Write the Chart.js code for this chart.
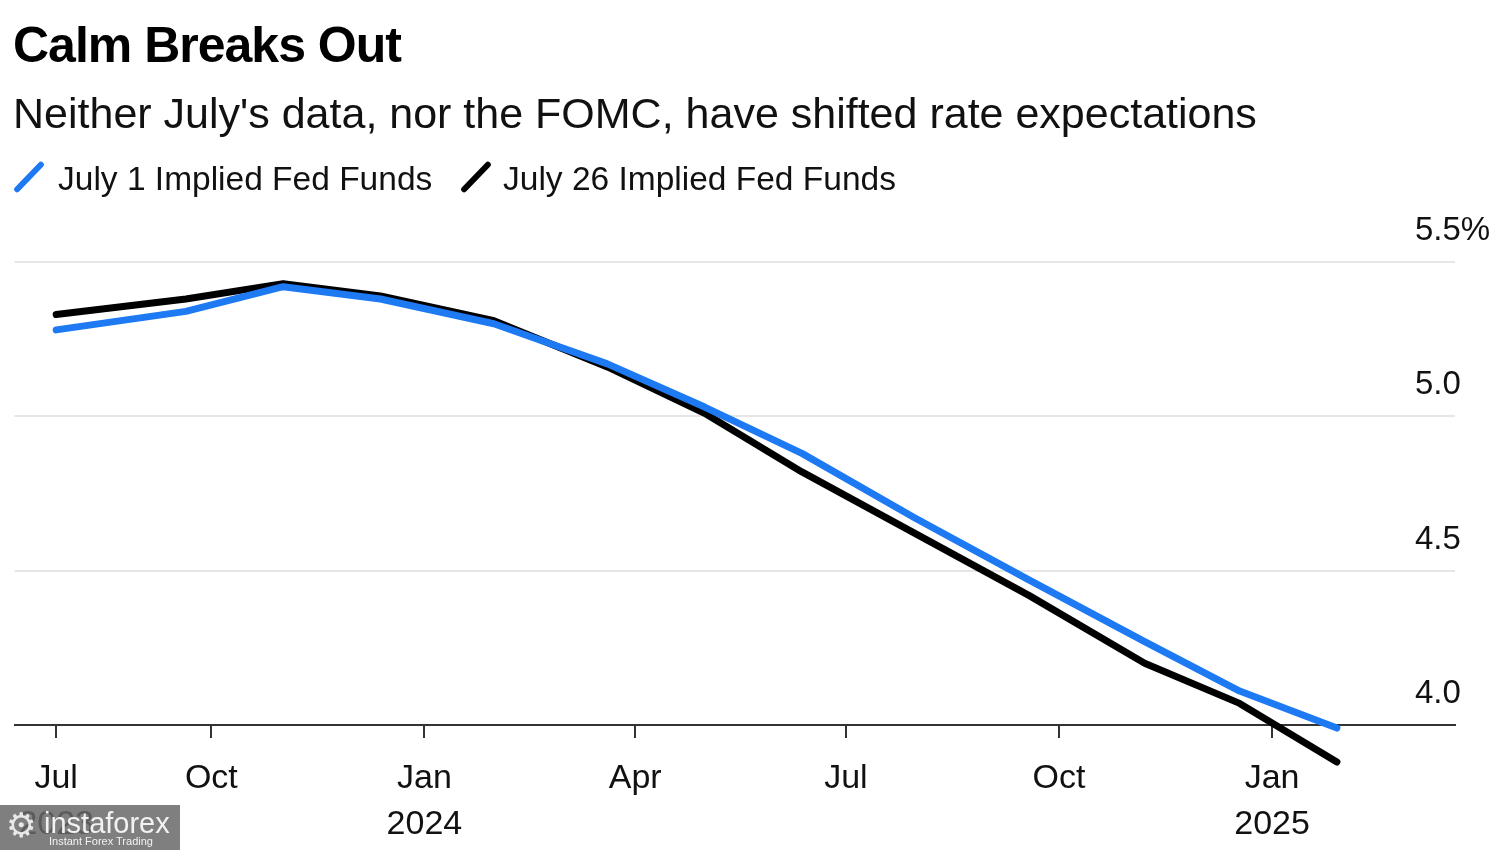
<!DOCTYPE html>
<html>
<head>
<meta charset="utf-8">
<script src="https://cdn.jsdelivr.net/npm/chart.js@4.4.1/dist/chart.umd.min.js"></script>
<style>
  body { margin: 0; background: #fff; font-family: "Liberation Sans", Arial, sans-serif; color: #111; }
  #wrap { position: relative; width: 1500px; height: 850px; overflow: hidden; }
  #chartBox { position: absolute; left: 0; top: 0; width: 1500px; height: 850px; }
  .txt { position: absolute; white-space: nowrap; line-height: 1; }
  #title { left: 13px; top: 20px; font-size: 50px; font-weight: bold; letter-spacing: -1px; color: #000; }
  #subtitle { left: 13px; top: 92px; font-size: 43px; color: #111; }
  .legText { top: 162px; font-size: 33.5px; color: #111; }
  .legMark { position: absolute; width: 40px; height: 6px; border-radius: 3px; transform: rotate(-46deg); }
  #mark { position: absolute; left: 0; top: 805px; width: 180px; height: 45px; background: rgba(105,105,105,0.85); color: #f2f2f2; }
  #mark .gear { position: absolute; left: 6px; top: 3px; font-family: "DejaVu Sans"; font-size: 34px; line-height: 1; color: #e8e8e8; }
  #mark .name { position: absolute; left: 44px; top: 4px; font-size: 29px; line-height: 1; }
  #mark .sub { position: absolute; left: 49px; top: 31px; font-size: 11px; line-height: 1; }
</style>
</head>
<body>
<div id="wrap">
  <div id="chartBox"><canvas id="chart"></canvas></div>
  <div class="txt" id="title">Calm Breaks Out</div>
  <div class="txt" id="subtitle">Neither July's data, nor the FOMC, have shifted rate expectations</div>
  <div class="legMark" style="left:9px; top:174px; background:#1d7af3;"></div>
  <div class="txt legText" style="left:58px;">July 1 Implied Fed Funds</div>
  <div class="legMark" style="left:456px; top:174px; background:#000;"></div>
  <div class="txt legText" style="left:503px;">July 26 Implied Fed Funds</div>
  <div id="mark"><span class="gear">⚙</span><span class="name">instaforex</span><span class="sub">Instant Forex Trading</span></div>
</div>
<script>
// FOMC meeting dates and implied fed funds rate (%)
const fomcDates = ['2023-07-26', '2023-09-20', '2023-11-01', '2023-12-13', '2024-01-31', '2024-03-20',
                   '2024-05-01', '2024-06-12', '2024-07-31', '2024-09-18', '2024-11-07', '2024-12-18', '2025-01-29'];
const july1Rates = [5.28, 5.34, 5.42, 5.38, 5.30, 5.17, 5.03, 4.88, 4.67, 4.47, 4.27, 4.11, 3.99];
const july26Rates = [5.33, 5.38, 5.43, 5.39, 5.31, 5.16, 5.01, 4.82, 4.62, 4.42, 4.20, 4.07, 3.88];

const tickDates = ['2023-07-26', '2023-10-01', '2024-01-01', '2024-04-01', '2024-07-01', '2024-10-01', '2025-01-01'];
const tickLabels = [['Jul', '2023'], 'Oct', ['Jan', '2024'], 'Apr', 'Jul', 'Oct', ['Jan', '2025']];
const yTickValues = [4.0, 4.5, 5.0, 5.5];
const yTickLabels = ['4.0', '4.5', '5.0', '5.5%'];

const FONT = '"Liberation Sans", Arial, sans-serif';

function day(s) {
    return Date.parse(s + 'T00:00:00Z') / 86400000;
}

function toPoints(values) {
    return values.map((v, i) => ({x: day(fomcDates[i]), y: v}));
}

// y labels sit just above their gridlines, near the right edge
const yLabelPlugin = {
    id: 'yLabels',
    afterDraw(chart) {
        const {ctx, chartArea} = chart;
        const y = chart.scales.y;
        ctx.save();
        ctx.font = '33px ' + FONT;
        ctx.fillStyle = '#111';
        ctx.textAlign = 'left';
        ctx.textBaseline = 'middle';
        yTickValues.forEach((v, i) => {
            ctx.fillText(yTickLabels[i], chartArea.right - 40, y.getPixelForValue(v) - 31);
        });
        ctx.restore();
    }
};

const lineStyle = {
    borderWidth: 7,
    pointRadius: 0,
    tension: 0,
    clip: false,
    borderJoinStyle: 'round',
    borderCapStyle: 'round'
};

new Chart(document.getElementById('chart'), {
    type: 'line',
    data: {
        datasets: [
            {label: 'July 1 Implied Fed Funds', data: toPoints(july1Rates), borderColor: '#1d7af3', ...lineStyle},
            {label: 'July 26 Implied Fed Funds', data: toPoints(july26Rates), borderColor: '#000', ...lineStyle}
        ]
    },
    options: {
        responsive: true,
        maintainAspectRatio: false,
        animation: false,
        layout: {padding: {top: 262, left: 13, right: 45, bottom: 5}},
        plugins: {
            legend: {display: false},
            tooltip: {enabled: false}
        },
        scales: {
            x: {
                type: 'linear',
                min: day('2023-07-08'),
                max: day('2025-03-21'),
                afterBuildTicks: (scale) => {
                    scale.ticks = tickDates.map(d => ({value: day(d)}));
                },
                afterFit: (scale) => {
                    scale.height = 120;
                },
                ticks: {
                    autoSkip: false,
                    maxRotation: 0,
                    padding: 18,
                    color: '#111',
                    font: {family: FONT, size: 34, lineHeight: 1.35},
                    callback: (value, index) => tickLabels[index]
                },
                grid: {drawOnChartArea: false, drawTicks: true, tickLength: 13, color: '#333', lineWidth: 2},
                border: {display: true, color: '#333', width: 2}
            },
            y: {
                position: 'right',
                min: 4.0,
                max: 5.5,
                afterBuildTicks: (scale) => {
                    scale.ticks = yTickValues.map(v => ({value: v}));
                },
                afterFit: (scale) => {
                    scale.width = 0;
                },
                ticks: {display: false},
                grid: {color: '#e6e6e6', lineWidth: 2, drawTicks: false},
                border: {display: false}
            }
        }
    },
    plugins: [yLabelPlugin]
});
</script>
</body>
</html>
